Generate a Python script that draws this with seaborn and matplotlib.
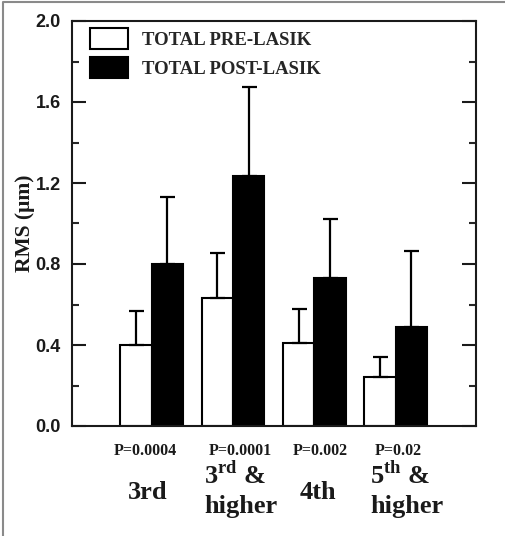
import matplotlib
matplotlib.use("Agg")
import matplotlib.pyplot as plt
from matplotlib.lines import Line2D
from matplotlib.ticker import MultipleLocator
import seaborn as sns
import pandas as pd
import numpy as np

# ---- data ----
categories = ["3rd", "3rd & higher", "4th", "5th & higher"]
groups = ["TOTAL PRE-LASIK", "TOTAL POST-LASIK"]
pre_values = [0.40, 0.63, 0.41, 0.24]
post_values = [0.80, 1.235, 0.73, 0.49]
pre_err = [0.17, 0.225, 0.17, 0.10]
post_err = [0.33, 0.44, 0.29, 0.375]
p_values = ["P=0.0004", "P=0.0001", "P=0.002", "P=0.02"]

df = pd.DataFrame({
    "category": categories * 2,
    "group": [groups[0]] * 4 + [groups[1]] * 4,
    "value": pre_values + post_values,
})

sns.set_theme(style="white")
plt.rcParams["font.family"] = ["Liberation Serif", "DejaVu Serif"]
plt.rcParams["mathtext.fontset"] = "custom"
plt.rcParams["mathtext.rm"] = "Liberation Serif:bold"
plt.rcParams["mathtext.bf"] = "Liberation Serif:bold"

W, H = 506, 536
fig = plt.figure(figsize=(W / 100, H / 100), dpi=100)
fig.patch.set_facecolor("white")
ax = fig.add_axes([72 / W, 1 - 426 / H, (476 - 72) / W, (426 - 21) / H])

palette = {groups[0]: "white", groups[1]: "black"}
sns.barplot(data=df, x="category", y="value", hue="group", order=categories,
            hue_order=groups, palette=palette, edgecolor="black", linewidth=1.5,
            width=0.77, errorbar=None, ax=ax, saturation=1)

errs = [pre_err, post_err]
for cont, e in zip(ax.containers, errs):
    xs = [p.get_x() + p.get_width() / 2 for p in cont.patches]
    hs = [p.get_height() for p in cont.patches]
    ax.errorbar(xs, hs, yerr=[np.zeros(len(e)), e], fmt="none", ecolor="black",
                elinewidth=1.6, capsize=5.4, capthick=1.6, zorder=3)

ax.set_xlim(-0.98, 3.99)
ax.set_ylim(0, 2.0)
ax.yaxis.set_major_locator(MultipleLocator(0.4))
ax.yaxis.set_minor_locator(MultipleLocator(0.2))
ax.tick_params(axis="y", which="major", direction="in", length=10, width=1.5,
               left=True, right=True, pad=8, labelsize=13, colors="#1a1a1a")
ax.tick_params(axis="y", which="minor", direction="in", length=5, width=1.5,
               left=True, right=True)
ax.tick_params(axis="x", bottom=False, labelbottom=False)
ax.set_yticks(ax.get_yticks())
ax.set_yticklabels([f"{v:.1f}" for v in ax.get_yticks()], fontfamily="Liberation Sans",
                   fontweight="bold", fontsize=13, color="#1a1a1a")
ax.set_ylim(0, 2.0)
for s in ax.spines.values():
    s.set_visible(True)
    s.set_linewidth(1.5)
    s.set_color("#1a1a1a")

ax.set_xlabel("")
ax.set_ylabel("RMS (\u03bcm)", fontsize=15.5, fontweight="bold", color="#1a1a1a")
ax.yaxis.set_label_coords(-0.092, 0.5)

# legend
handles, labels = ax.get_legend_handles_labels()
ax.legend(handles, labels, loc="upper left", bbox_to_anchor=(81 / W, 1 - 19 / H),
          bbox_transform=fig.transFigure, frameon=False, borderpad=0,
          handlelength=2.0, handleheight=1.3, labelspacing=0.45, handletextpad=0.75,
          prop={"family": "Liberation Serif", "weight": "bold", "size": 13.5})

# x annotations
tr = ax.get_xaxis_transform()
p_off = [-0.08, 0.09, 0.07, 0.03]
for i, (p, o) in enumerate(zip(p_values, p_off)):
    ax.text(i + o, -0.0716, p, transform=tr, ha="center", va="baseline",
            fontsize=11.5, fontweight="bold", color="#1a1a1a", clip_on=False)

lab_kw = dict(transform=tr, va="baseline", fontsize=19, fontweight="bold",
              color="#1a1a1a", clip_on=False)
ax.text(0 - 0.045, -0.181, "3rd", ha="center", **lab_kw)
ax.text(1 - 0.357, -0.141, "3$^{\\rm rd}$ &", ha="left", **lab_kw)
ax.text(1 - 0.357, -0.215, "higher", ha="left", **lab_kw)
ax.text(2 + 0.046, -0.181, "4th", ha="center", **lab_kw)
ax.text(3 - 0.315, -0.141, "5$^{\\rm th}$ &", ha="left", **lab_kw)
ax.text(3 - 0.315, -0.215, "higher", ha="left", **lab_kw)

# outer frame (left and top edges)
fig.add_artist(Line2D([3.5 / W, 3.5 / W, 505 / W], [0, 1 - 1.5 / H, 1 - 1.5 / H],
                      transform=fig.transFigure, color="#8a8a8a", linewidth=1.5))

fig.savefig("out.png", dpi=100, facecolor="white")
